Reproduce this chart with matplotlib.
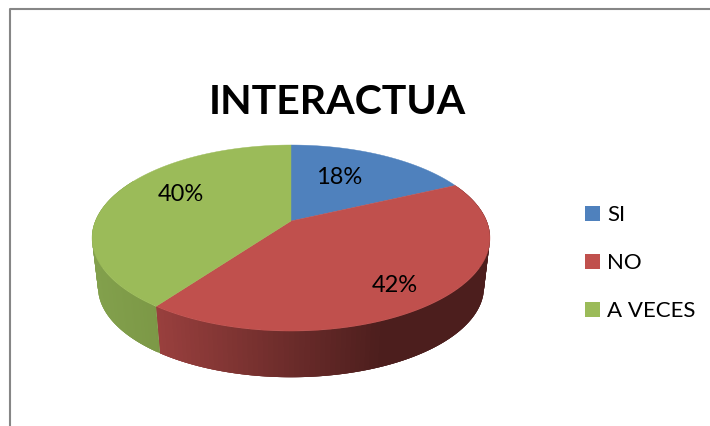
import numpy as np
import matplotlib
matplotlib.use("Agg")
import matplotlib.pyplot as plt
from matplotlib.patches import Rectangle

plt.rcParams['font.family'] = ['Lato', 'DejaVu Sans']

# --- DATA ---
categories = ["SI", "NO", "A VECES"]
values = [18, 42, 40]
title = "INTERACTUA"

# --- STYLE ---
colors = ["#4f81bd", "#c0504d", "#9bbb59"]
label_pos = [(339, 178), (395, 286), (181, 195)]
legend_y = [215, 263, 311]

# perspective of the pie, all in image pixels
CX, TOP_Y, BOTTOM_Y = 291, 222, 271.5
A, B, K = 195.6, 89.9, 0.183
BOTTOM_SCALE = 0.97
WALL_FROM, WALL_TO = 0.36 * np.pi, 1.66 * np.pi


def project(theta, y0, scale=1.0):
    # theta runs clockwise from 12 o'clock
    u, v = np.sin(theta), np.cos(theta)
    d = 1 + K * v
    return CX + scale * A * u / d, y0 - scale * B * v / d


def side_color(i, x):
    if i == 2:
        start, end = np.array([0x82, 0xa0, 0x4c]), np.array([0x7c, 0x98, 0x46])
        t = np.clip((x - 95) / 65, 0, 1)
    else:
        start, end = np.array([0x9a, 0x40, 0x3e]), np.array([0x4c, 0x1e, 0x1d])
        t = np.clip((x - 156) / 230, 0, 1)
    return tuple((start + (end - start) * t) / 255)


fig = plt.figure(figsize=(7.1, 4.27), dpi=100)
ax = fig.add_axes([0, 0, 1, 1])
ax.set_xlim(0, 710)
ax.set_ylim(427, 0)
ax.axis("off")

# chart frame, runs off the right and bottom of the picture
ax.plot([9.5, 9.5, 710], [427, 9.5, 9.5], color="#868686", lw=1.5, zorder=1)

fractions = np.array(values) / sum(values)
edges = np.concatenate([[0], np.cumsum(fractions)]) * 2 * np.pi

# side wall: strips overlap the next one so no seams show
for i in range(len(values)):
    lo = max(edges[i], WALL_FROM)
    hi = min(edges[i + 1], WALL_TO)
    if hi <= lo:
        continue
    steps = np.linspace(lo, hi, 120)
    step = steps[1] - steps[0]
    # the red strips go right to left, the green ones as well
    for t0 in steps[:-1]:
        t1 = min(t0 + 3 * step, hi)
        th = np.linspace(t0, t1, 5)
        xa, ya = project(th, TOP_Y)
        xb, yb = project(th[::-1], BOTTOM_Y, BOTTOM_SCALE)
        c = side_color(i, xa[0])
        ax.fill(np.r_[xa, xb], np.r_[ya, yb], color=c, lw=0, zorder=2)

# top face
for i in range(len(values)):
    th = np.linspace(edges[i], edges[i + 1], 200)
    xs, ys = project(th, TOP_Y)
    ax.fill(np.r_[CX, xs], np.r_[TOP_Y, ys], color=colors[i], lw=0.3, zorder=3)

# percentages
for v, (lx, ly) in zip(values, label_pos):
    ax.text(lx, ly, f"{v}%", fontsize=17, color="black", ha="center", va="center", zorder=4)

ax.text(337, 102, title, fontsize=29.5, fontweight="bold", color="black", ha="center", va="center")

# legend
for cat, c, ly in zip(categories, colors, legend_y):
    ax.add_patch(Rectangle((585, ly - 8.5), 15, 15, facecolor=c, edgecolor="none"))
    ax.text(607, ly, cat, fontsize=16, color="black", ha="left", va="center")

plt.savefig("out.png", dpi=100)
plt.close()
